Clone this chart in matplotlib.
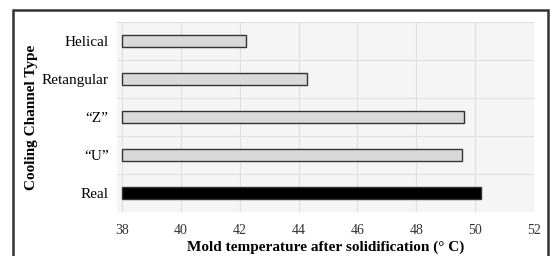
import matplotlib.pyplot as plt
from matplotlib.patches import Rectangle

# cooling channel types (bottom to top) and mold temperature after solidification
channels = ['Real', '\u201cU\u201d', '\u201cZ\u201d', 'Retangular', 'Helical']
temps = [50.19, 49.55, 49.62, 44.28, 42.2]
bar_colors = ['#000000', '#d9d9d9', '#d9d9d9', '#d9d9d9', '#d9d9d9']
x_ticks = [38, 40, 42, 44, 46, 48, 50, 52]

plt.rcParams['font.family'] = ['Liberation Serif', 'DejaVu Serif']

fig = plt.figure(figsize=(5.6, 2.56), dpi=100)
fig.patch.set_facecolor('white')

# outer frame around the whole chart
fig.patches.append(Rectangle((13 / 560, -0.05), 535 / 560, (246 / 256) + 0.05,
                             transform=fig.transFigure, fill=False,
                             edgecolor='#333333', linewidth=1.8))

ax = fig.add_axes([117 / 560, 44 / 256, 417 / 560, 190 / 256])
ax.set_facecolor('#f5f5f5')

ax.barh(range(len(channels)), [t - 38 for t in temps], left=38, height=0.3,
        color=bar_colors, edgecolor='#333333', linewidth=1.0, zorder=3)

ax.set_xlim(37.83, 52)
ax.set_ylim(-0.5, 4.5)
ax.set_xticks(x_ticks)
ax.set_xticklabels([str(t) for t in x_ticks], fontsize=10, color='#333333')
ax.set_yticks(range(len(channels)))
ax.set_yticklabels(channels, fontsize=11)
ax.set_yticks([-0.5, 0.5, 1.5, 2.5, 3.5, 4.5], minor=True)

ax.grid(True, axis='x', color='#e0e0e0', linewidth=0.8, zorder=0)
ax.grid(True, axis='y', which='minor', color='#e0e0e0', linewidth=0.8, zorder=0)
ax.tick_params(axis='both', which='both', length=0)
ax.tick_params(axis='x', pad=9)
ax.tick_params(axis='y', pad=6)
for s in ax.spines.values():
    s.set_visible(False)

ax.set_xlabel('Mold temperature after solidification (\u00b0 C)', fontsize=11,
              fontweight='bold', labelpad=2)
ax.set_ylabel('Cooling Channel Type', fontsize=11, fontweight='bold')
ax.yaxis.set_label_coords(-0.19, 0.5)

fig.savefig('out.png', dpi=100)
